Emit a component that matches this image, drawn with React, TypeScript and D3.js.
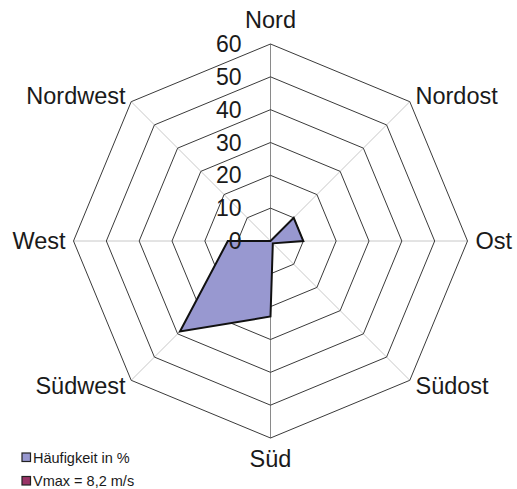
import React from 'react'
import { scaleLinear, lineRadial, curveLinearClosed } from 'd3'

const WIDTH = 517
const HEIGHT = 489
const CX = 270.5
const CY = 241
const RADIUS = 197

const directions = ['Nord', 'Nordost', 'Ost', 'Südost', 'Süd', 'Südwest', 'West', 'Nordwest']
const haeufigkeit = [0, 10, 10, 1, 23, 39, 13, 0]
const ticks = [0, 10, 20, 30, 40, 50, 60]
const legendLabels = ['Häufigkeit in %', 'Vmax = 8,2 m/s']
const legendColors = ['#9898d0', '#993366']

const FONT = 'Liberation Sans, Arial, sans-serif'

const App = () => {
  const r = scaleLinear().domain([0, 60]).range([0, RADIUS])
  const angle = (i: number) => (i * 2 * Math.PI) / directions.length

  // one radial line generator for both the grid rings and the data polygon
  const radial = lineRadial<number>()
    .angle((_, i) => angle(i))
    .radius(d => r(d))
    .curve(curveLinearClosed)

  return (
    <svg
      width={WIDTH}
      height={HEIGHT}
      style={{ position: 'absolute', left: 0, top: 0, background: 'white' }}
      fontFamily={FONT}
    >
      <g transform={`translate(${CX}, ${CY})`}>
        {/* spokes */}
        {directions.map((d, i) => {
          const a = angle(i)
          const vertical = i === 0 || i === 4
          return (
            <line key={d} x1={0} y1={0}
              x2={RADIUS * Math.sin(a)} y2={-RADIUS * Math.cos(a)}
              stroke={vertical ? '#8a8a8a' : '#c8c8c8'} strokeWidth={1} />
          )
        })}
        {/* rings */}
        {ticks.filter(t => t > 0).map(t => (
          <path key={t} d={radial(directions.map(() => t)) || ''} fill="none" stroke="#3a3a3a" strokeWidth={1} />
        ))}

        <path d={radial(haeufigkeit) || ''} fill={legendColors[0]} stroke="#111" strokeWidth={2} strokeLinejoin="miter" />

        {/* value axis labels */}
        {ticks.map(t => (
          <text key={t} x={-29} y={-r(t) + 8} textAnchor="end" fontSize={23} fill="#1a1a1a">{t}</text>
        ))}

        {/* category labels */}
        {directions.map((d, i) => {
          const a = angle(i)
          const s = Math.sin(a)
          const c = Math.cos(a)
          const px = (RADIUS + 8) * s
          const py = -(RADIUS + 8) * c
          const anchor = Math.abs(s) < 0.1 ? 'middle' : s > 0 ? 'start' : 'end'
          let dy = 8
          if (c > 0.9) dy = -8
          if (c < -0.9) dy = 21
          return (
            <text key={d} x={px} y={py + dy} textAnchor={anchor} fontSize={23.5} fill="#1a1a1a">{d}</text>
          )
        })}
      </g>

      {/* legend */}
      {legendLabels.map((l, i) => (
        <g key={l} transform={`translate(22, ${453 + i * 23.5})`}>
          <rect x={0} y={0} width={8.5} height={8.5} fill={legendColors[i]} stroke="#222" strokeWidth={1.2} />
          <text x={11} y={9.5} fontSize={14.5} fill="#1a1a1a">{l}</text>
        </g>
      ))}
    </svg>
  )
}

export default App
